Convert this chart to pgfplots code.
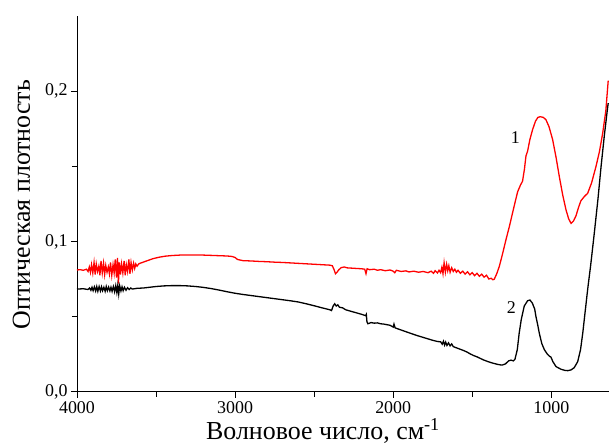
\documentclass[border=0pt]{standalone}
\usepackage{pgfplots}
\pgfplotsset{compat=1.18}
\usepackage{fontspec}
\setmainfont{Liberation Serif}

\begin{document}
\begin{tikzpicture}
\path[use as bounding box] (0,0) rectangle (609bp,446bp);
\begin{axis}[
  at={(77bp,54.3bp)}, anchor=south west,
  scale only axis, width=532bp, height=375.7bp,
  x dir=reverse, xmin=635, xmax=4000, ymin=0, ymax=0.25,
  axis x line*=bottom, axis y line*=left,
  axis line style={line width=0.9bp, -},
  xtick={1000,2000,3000,4000}, ytick={0,0.1,0.2},
  minor x tick num=1, minor y tick num=1,
  tick align=outside,
  major tick length=6bp, minor tick length=5bp,
  tick style={line width=0.8bp, black},
  /pgf/number format/assume math mode=true,
  /pgf/number format/set thousands separator={},
  yticklabel style={/pgf/number format/.cd, use comma, fixed, fixed zerofill, precision=1},
  ticklabel style={font=\fontsize{18}{21}\selectfont},
  xlabel={Волновое число, см\textsuperscript{-1}},
  ylabel={Оптическая плотность},
  label style={font=\fontsize{26}{30}\selectfont},
  xlabel style={at={(axis description cs:0.4624,0)}, anchor=base, yshift=-47.5bp},
  ylabel style={at={(axis description cs:-0.1043,0.498)}, anchor=center},
  clip=true,
]
% curve 1 (red)
\addplot[red, line width=1.3bp] coordinates {
(4000,0.0810)(3980,0.0812)(3960,0.0808)(3940,0.0815)(3930,0.0800)(3922,0.0830)
(3915,0.0795)(3908,0.0845)(3900,0.0790)(3892,0.0860)(3885,0.0780)(3878,0.0850)
(3870,0.0800)(3862,0.0835)(3855,0.0775)(3848,0.0870)(3840,0.0790)(3832,0.0855)
(3825,0.0780)(3818,0.0840)(3810,0.0795)(3802,0.0830)(3795,0.0785)(3788,0.0860)
(3780,0.0775)(3772,0.0845)(3765,0.0790)(3758,0.0880)(3750,0.0760)(3744,0.0890)
(3738,0.0720)(3732,0.0860)(3725,0.0780)(3718,0.0850)(3710,0.0790)(3702,0.0870)
(3695,0.0775)(3688,0.0845)(3680,0.0800)(3672,0.0880)(3665,0.0785)(3658,0.0860)
(3650,0.0810)(3642,0.0855)(3635,0.0820)(3628,0.0850)(3620,0.0835)(3610,0.0850)
(3600,0.0855)(3560,0.0870)(3520,0.0885)(3480,0.0895)(3440,0.0902)(3400,0.0906)
(3350,0.0909)(3300,0.0910)(3250,0.0910)(3200,0.0909)(3150,0.0907)(3100,0.0905)
(3050,0.0903)(3020,0.0900)(3000,0.0893)(2985,0.0880)(2950,0.0872)(2900,0.0870)
(2850,0.0867)(2800,0.0865)(2750,0.0862)(2700,0.0860)(2650,0.0857)(2600,0.0854)
(2550,0.0851)(2500,0.0848)(2450,0.0845)(2400,0.0842)(2385,0.0838)(2375,0.0815)
(2365,0.0785)(2355,0.0795)(2345,0.0810)(2330,0.0825)(2310,0.0830)(2290,0.0824)
(2260,0.0822)(2230,0.0820)(2200,0.0818)(2180,0.0815)(2172,0.0785)(2165,0.0818)
(2150,0.0812)(2120,0.0815)(2100,0.0808)(2080,0.0812)(2050,0.0805)(2020,0.0810)
(2000,0.0802)(1990,0.0792)(1980,0.0808)(1950,0.0800)(1920,0.0804)(1900,0.0797)
(1870,0.0802)(1840,0.0795)(1810,0.0800)(1780,0.0792)(1760,0.0802)(1745,0.0788)
(1735,0.0805)(1720,0.0790)(1710,0.0808)(1700,0.0792)(1692,0.0828)(1685,0.0785)
(1678,0.0858)(1670,0.0795)(1662,0.0848)(1655,0.0805)(1648,0.0838)(1640,0.0795)
(1630,0.0825)(1620,0.0800)(1610,0.0815)(1600,0.0795)(1590,0.0808)(1575,0.0788)
(1560,0.0802)(1545,0.0782)(1530,0.0798)(1515,0.0778)(1500,0.0792)(1485,0.0772)
(1470,0.0788)(1455,0.0768)(1440,0.0782)(1425,0.0762)(1410,0.0775)(1395,0.0750)
(1380,0.0755)(1370,0.0745)(1361,0.0748)(1345,0.0785)(1329,0.0833)(1310,0.0910)
(1287,0.1010)(1265,0.1100)(1245,0.1190)(1228,0.1265)(1213,0.1330)(1195,0.1375)
(1182,0.1400)(1170,0.1480)(1160,0.1570)(1150,0.1600)(1135,0.1680)(1118,0.1745)
(1100,0.1800)(1085,0.1825)(1070,0.1830)(1050,0.1825)(1034,0.1810)(1015,0.1765)
(992,0.1680)(970,0.1560)(949,0.1430)(928,0.1310)(907,0.1210)(890,0.1150)
(875,0.1120)(860,0.1135)(844,0.1170)(828,0.1225)(813,0.1270)(790,0.1300)
(770,0.1320)(745,0.1390)(717,0.1500)(695,0.1600)(675,0.1720)(655,0.1870)
(640,0.2070)
};
% curve 2 (black)
\addplot[black, line width=1.3bp] coordinates {
(4000,0.0683)(3960,0.0685)(3930,0.0680)(3920,0.0690)(3912,0.0675)(3905,0.0695)
(3898,0.0672)(3890,0.0698)(3882,0.0670)(3875,0.0700)(3868,0.0668)(3860,0.0700)
(3852,0.0670)(3845,0.0698)(3838,0.0672)(3830,0.0695)(3822,0.0668)(3815,0.0700)
(3808,0.0672)(3800,0.0696)(3792,0.0670)(3785,0.0695)(3778,0.0668)(3770,0.0700)
(3762,0.0665)(3755,0.0705)(3748,0.0660)(3742,0.0708)(3736,0.0650)(3730,0.0705)
(3722,0.0670)(3715,0.0698)(3708,0.0672)(3700,0.0695)(3690,0.0675)(3680,0.0692)
(3670,0.0680)(3660,0.0690)(3650,0.0683)(3620,0.0688)(3580,0.0690)(3540,0.0695)
(3500,0.0700)(3450,0.0704)(3400,0.0706)(3350,0.0706)(3300,0.0704)(3250,0.0700)
(3200,0.0694)(3150,0.0686)(3100,0.0676)(3050,0.0665)(3000,0.0655)(2950,0.0647)
(2900,0.0640)(2850,0.0633)(2800,0.0626)(2750,0.0619)(2700,0.0612)(2650,0.0605)
(2600,0.0597)(2550,0.0585)(2500,0.0572)(2450,0.0558)(2400,0.0545)(2390,0.0540)
(2380,0.0570)(2370,0.0585)(2360,0.0570)(2350,0.0578)(2340,0.0562)(2320,0.0558)
(2300,0.0545)(2250,0.0530)(2200,0.0515)(2175,0.0506)(2170,0.0515)(2166,0.0465)
(2160,0.0452)(2140,0.0460)(2120,0.0456)(2100,0.0458)(2080,0.0452)(2060,0.0450)
(2040,0.0446)(2020,0.0442)(2000,0.0430)(1995,0.0450)(1988,0.0425)(1970,0.0418)
(1900,0.0392)(1850,0.0374)(1800,0.0358)(1750,0.0342)(1720,0.0334)(1700,0.0332)
(1690,0.0316)(1682,0.0336)(1675,0.0310)(1668,0.0330)(1660,0.0308)(1650,0.0325)
(1640,0.0305)(1630,0.0318)(1620,0.0300)(1600,0.0292)(1570,0.0280)(1550,0.0272)
(1530,0.0262)(1510,0.0250)(1490,0.0240)(1470,0.0232)(1450,0.0222)(1430,0.0212)
(1400,0.0200)(1370,0.0190)(1340,0.0182)(1320,0.0178)(1308,0.0178)(1290,0.0185)
(1270,0.0205)(1255,0.0210)(1240,0.0205)(1230,0.0215)(1215,0.0280)(1203,0.0390)
(1190,0.0480)(1171,0.0570)(1150,0.0605)(1135,0.0610)(1120,0.0590)(1105,0.0550)
(1097,0.0500)(1085,0.0440)(1076,0.0390)(1060,0.0320)(1044,0.0280)(1025,0.0250)
(1010,0.0235)(1002,0.0230)(990,0.0200)(970,0.0167)(940,0.0150)(915,0.0142)
(896,0.0140)(875,0.0145)(855,0.0160)(833,0.0200)(815,0.0280)(801,0.0390)
(785,0.0540)(770,0.0680)(750,0.0850)(728,0.1055)(705,0.1280)(685,0.1500)
(665,0.1700)(645,0.1880)(640,0.1920)
};
\node[font=\fontsize{18}{21}\selectfont] at (axis cs:1228,0.169) {1};
\node[font=\fontsize{18}{21}\selectfont] at (axis cs:1253,0.056) {2};
\end{axis}
\end{tikzpicture}
\end{document}
